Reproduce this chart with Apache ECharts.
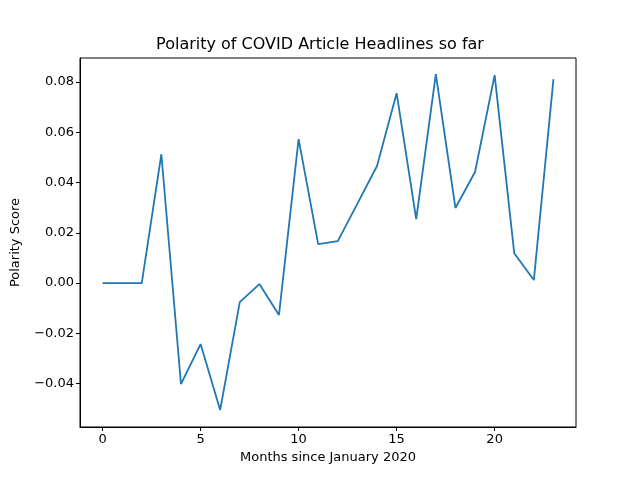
<!DOCTYPE html>
<html><head><meta charset="utf-8">
<script src="https://cdn.jsdelivr.net/npm/echarts@6/dist/echarts.min.js"></script>
<style>html,body{margin:0;padding:0;background:#fff}#c{width:640px;height:480px}</style>
</head><body><div id="c"></div>
<script>
const months = [0,1,2,3,4,5,6,7,8,9,10,11,12,13,14,15,16,17,18,19,20,21,22,23];
const polarity = [0,0,0,0.0513,-0.0402,-0.0243,-0.0505,-0.0076,-0.0004,-0.0127,0.0573,0.0155,0.0167,0.0316,0.0466,0.0756,0.0255,0.0832,0.0299,0.0442,0.0828,0.0119,0.0012,0.0812];
const xTicks = [0,5,10,15,20];
const yTicks = [-0.04,-0.02,0,0.02,0.04,0.06,0.08];
const font = 'DejaVu Sans';
const chart = echarts.init(document.getElementById('c'));
chart.setOption({
  animation:false,
  title:{text:'Polarity of COVID Article Headlines so far',left:'center',top:32,textStyle:{fontFamily:font,fontSize:16,fontWeight:'normal',color:'#000'}},
  grid:{left:80,right:64,top:58,bottom:53,show:true,borderColor:'#000',borderWidth:1,backgroundColor:'transparent'},
  xAxis:{type:'value',min:-1.15,max:24.15,name:'Months since January 2020',nameLocation:'middle',nameGap:24,
    nameTextStyle:{fontFamily:font,fontSize:13,color:'#000'},
    axisLine:{show:true,onZero:false,lineStyle:{color:'#000',width:1}},splitLine:{show:false},
    axisTick:{show:true,inside:false,length:4,customValues:xTicks,lineStyle:{color:'#000'}},
    axisLabel:{customValues:xTicks,fontFamily:font,fontSize:13,color:'#000',margin:6}},
  yAxis:{type:'value',min:-0.0573,max:0.0896,name:'Polarity Score',nameLocation:'middle',nameGap:58,
    nameTextStyle:{fontFamily:font,fontSize:13,color:'#000'},
    axisLine:{show:true,onZero:false,lineStyle:{color:'#000',width:1}},splitLine:{show:false},
    axisTick:{show:true,inside:false,length:4,customValues:yTicks,lineStyle:{color:'#000'}},
    axisLabel:{customValues:yTicks,fontFamily:font,fontSize:13,color:'#000',margin:6,formatter:v=>v.toFixed(2).replace('-','\u2212')}},
  series:[{type:'line',data:months.map((m,i)=>[m,polarity[i]]),showSymbol:false,lineStyle:{color:'#1f77b4',width:1.8}}]
});
</script></body></html>
